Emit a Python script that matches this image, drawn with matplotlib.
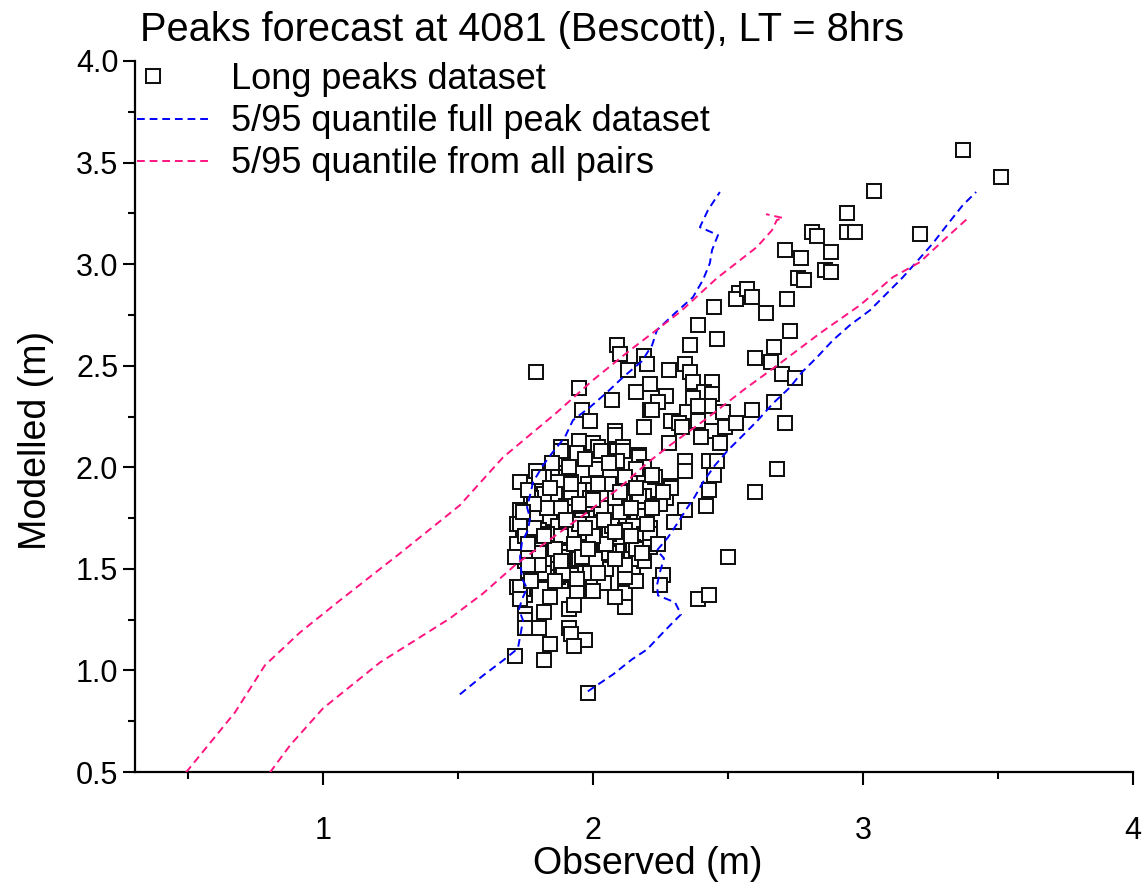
import matplotlib
matplotlib.use("Agg")
import matplotlib.pyplot as plt
from matplotlib.ticker import MultipleLocator, FormatStrFormatter
from matplotlib.legend_handler import HandlerLine2D

plt.rcParams['font.family'] = ['Liberation Sans', 'DejaVu Sans']

title = "Peaks forecast at 4081 (Bescott), LT = 8hrs"
xlabel = "Observed (m)"
ylabel = "Modelled (m)"
labels = ["Long peaks dataset", "5/95 quantile full peak dataset", "5/95 quantile from all pairs"]

# scatter points: observed, modelled
points = [
    (3.37, 3.56), (3.51, 3.43), (3.04, 3.36), (2.94, 3.25), (2.81, 3.16), (2.83, 3.14),
    (2.94, 3.16), (2.97, 3.16), (3.21, 3.15), (2.71, 3.07), (2.77, 3.03), (2.88, 3.06),
    (2.86, 2.97), (2.88, 2.96), (2.76, 2.93), (2.78, 2.92), (2.54, 2.86), (2.53, 2.83),
    (2.57, 2.88), (2.59, 2.84), (2.72, 2.83), (2.45, 2.79), (2.64, 2.76), (2.39, 2.70),
    (2.46, 2.63), (2.36, 2.60), (2.73, 2.67), (2.67, 2.59), (2.60, 2.54), (2.66, 2.52),
    (2.70, 2.46), (2.75, 2.44), (2.67, 2.32), (2.59, 2.28), (2.71, 2.22), (2.68, 1.99),
    (2.60, 1.88), (2.50, 1.56), (2.39, 1.35), (2.43, 1.37),
    (1.79, 2.47), (2.09, 2.60), (2.10, 2.56), (2.13, 2.48), (1.95, 2.39), (2.16, 2.37),
    (2.07, 2.33), (1.96, 2.28), (1.99, 2.23), (2.19, 2.20), (2.08, 2.18), (2.08, 2.16),
    (1.95, 2.13), (2.00, 2.12), (2.02, 2.10), (1.88, 2.10), (1.93, 2.06), (2.11, 2.10),
    (2.09, 2.08), (2.19, 2.55), (2.20, 2.51), (2.21, 2.41), (2.21, 2.28),
    (2.28, 2.48), (2.34, 2.51), (2.36, 2.47), (2.37, 2.42), (2.44, 2.42), (2.27, 2.35),
    (2.24, 2.32), (2.22, 2.28), (2.41, 2.37), (2.44, 2.36), (2.37, 2.34), (2.43, 2.30),
    (2.35, 2.27), (2.39, 2.30), (2.48, 2.27), (2.29, 2.23), (2.32, 2.22), (2.33, 2.20),
    (2.39, 2.23), (2.44, 2.18), (2.49, 2.20), (2.53, 2.22), (2.40, 2.15), (2.47, 2.12),
    (2.28, 2.12),
    (2.34, 2.03), (2.34, 1.98), (2.43, 2.03), (2.46, 2.03), (2.45, 1.96), (2.43, 1.89),
    (2.42, 1.81), (2.34, 1.79), (2.30, 1.73), (2.27, 1.85), (2.25, 1.82), (2.29, 1.91),
    (2.29, 1.90), (2.20, 1.96), (2.23, 1.95), (2.19, 1.86), (2.22, 1.81), (2.20, 1.72),
    (2.21, 1.70), (2.20, 1.65), (2.26, 1.47), (2.17, 2.06), (2.25, 1.42),
    (1.71, 1.07), (1.82, 1.05), (1.84, 1.13), (1.98, 0.89), (1.91, 1.30), (1.93, 1.32),
    (1.91, 1.21), (1.92, 1.18), (1.97, 1.15), (1.93, 1.12), (1.80, 1.21), (1.82, 1.29),
    (1.84, 1.36), (1.75, 1.28), (1.75, 1.25), (1.75, 1.21), (1.75, 1.37), (1.74, 1.40),
    (1.72, 1.41), (1.77, 1.46), (1.82, 1.47), (1.88, 1.44), (1.87, 1.46), (1.96, 1.42),
    (2.00, 1.43), (2.04, 1.43), (1.94, 1.39), (2.00, 1.39), (2.08, 1.36), (2.12, 1.38),
    (2.12, 1.31), (2.16, 1.44),
    (1.88, 2.08), (1.94, 2.07), (2.03, 2.08), (2.11, 2.08), (2.17, 2.05), (2.09, 2.03),
    (2.01, 1.99), (1.87, 1.97), (1.90, 1.95), (1.79, 1.98), (2.19, 2.00), (1.87, 1.93),
    (1.92, 1.93), (1.98, 1.92), (2.06, 1.92), (2.00, 1.89), (1.95, 1.89), (2.19, 1.96),
    (2.11, 1.87), (2.17, 1.86), (1.86, 1.87), (1.82, 1.87), (1.77, 1.85), (1.92, 1.85),
    (1.99, 1.85), (1.90, 1.81), (1.79, 1.77), (1.84, 1.75), (1.92, 1.78), (2.00, 1.75),
    (2.06, 1.74), (2.11, 1.72), (2.19, 1.76), (1.96, 1.74), (1.74, 1.74), (1.87, 1.71),
    (2.03, 1.70), (2.15, 1.71), (1.77, 1.68), (1.74, 1.66), (1.83, 1.67), (1.88, 1.65),
    (1.93, 1.68), (1.98, 1.67), (2.06, 1.67), (2.11, 1.68), (2.19, 1.67), (1.80, 1.63),
    (1.99, 1.61), (2.04, 1.60), (2.09, 1.59), (2.15, 1.61), (1.75, 1.54), (1.80, 1.53),
    (1.84, 1.57), (1.89, 1.56), (1.94, 1.56), (1.95, 1.52), (1.88, 1.50), (1.82, 1.52),
    (1.76, 1.49), (1.99, 1.54), (2.06, 1.56), (2.11, 1.55), (2.05, 1.50), (1.99, 1.48),
    (2.15, 1.51), (2.19, 1.54), (1.92, 1.47), (2.12, 1.46),
    (1.73, 1.93), (1.76, 1.89), (1.73, 1.79), (1.72, 1.72), (1.72, 1.62), (1.71, 1.56),
    (1.73, 1.41), (1.73, 1.35),
    (1.73, 1.72), (1.80, 1.69), (1.83, 1.67), (1.88, 1.66), (1.95, 1.72), (2.00, 1.72),
    (2.07, 1.71), (2.12, 1.69), (2.21, 1.67), (1.75, 1.66), (1.76, 1.56), (1.82, 1.53),
    (1.82, 1.48), (1.89, 1.48), (1.95, 1.55), (2.01, 1.55), (2.06, 1.58), (2.14, 1.55),
    (2.21, 1.61), (2.16, 1.60), (2.08, 1.36), (1.77, 1.44), (2.16, 1.99),
    (1.80, 1.95), (1.84, 1.90), (1.88, 1.80), (1.95, 1.82), (2.03, 1.80), (2.08, 1.85),
    (2.12, 1.95), (2.16, 1.90), (2.10, 1.78), (2.05, 1.62), (2.00, 1.66), (1.93, 1.62),
    (1.86, 1.60), (1.80, 1.58), (1.78, 1.70), (1.83, 1.80), (1.90, 1.74), (1.97, 1.70),
    (2.04, 1.74), (2.14, 1.66), (2.18, 1.58), (2.12, 1.52), (2.02, 1.48), (1.94, 1.45),
    (1.86, 1.44), (1.80, 1.52), (1.76, 1.62), (1.82, 1.66), (1.96, 1.56), (2.08, 1.55),
    (2.02, 1.92), (1.97, 2.04), (1.91, 2.00), (1.85, 2.02), (2.06, 2.02), (2.10, 1.88),
    (1.92, 1.92), (2.00, 1.84), (1.88, 1.54), (1.98, 1.60), (2.08, 1.68), (2.14, 1.80),
    (1.78, 1.82), (1.74, 1.78), (1.76, 1.52), (2.20, 1.72), (2.24, 1.62), (2.22, 1.80),
    (2.26, 1.88), (2.22, 1.96),
]
observed = [p[0] for p in points]
modelled = [p[1] for p in points]

# 5/95 quantile, full peak dataset (blue)
blue_upper_x = [1.507, 1.593, 1.667, 1.722, 1.733, 1.741, 1.726, 1.737, 1.756, 1.737, 1.730, 1.737,
                1.759, 1.767, 1.756, 1.767, 1.778, 1.815, 1.848, 1.896, 1.926, 1.989, 2.052, 2.111,
                2.181, 2.219, 2.237, 2.304, 2.370, 2.407, 2.433, 2.441, 2.463, 2.396, 2.426, 2.470]
blue_upper_y = [0.882, 0.975, 1.049, 1.108, 1.187, 1.246, 1.300, 1.350, 1.404, 1.453, 1.557, 1.631,
                1.690, 1.749, 1.803, 1.862, 1.926, 2.010, 2.069, 2.148, 2.232, 2.296, 2.369, 2.443,
                2.522, 2.601, 2.675, 2.759, 2.837, 2.921, 3.005, 3.069, 3.143, 3.182, 3.266, 3.355]
blue_lower_x = [1.981, 2.074, 2.144, 2.200, 2.267, 2.326, 2.304, 2.241, 2.237, 2.248, 2.263, 2.237,
                2.278, 2.315, 2.348, 2.378, 2.407, 2.452, 2.500, 2.556, 2.611, 2.667, 2.730, 2.774,
                2.830, 2.889, 2.952, 3.026, 3.089, 3.148, 3.211, 3.259, 3.311, 3.370, 3.419]
blue_lower_y = [0.897, 0.980, 1.054, 1.103, 1.197, 1.276, 1.335, 1.369, 1.419, 1.483, 1.552, 1.591,
                1.655, 1.729, 1.798, 1.857, 1.926, 2.010, 2.084, 2.158, 2.232, 2.315, 2.394, 2.468,
                2.542, 2.626, 2.700, 2.773, 2.857, 2.936, 3.030, 3.103, 3.192, 3.291, 3.355]

# 5/95 quantile from all pairs (pink)
pink_upper_x = [0.493, 0.674, 0.785, 0.915, 1.063, 1.285, 1.507, 1.667, 1.867, 2.000, 2.137, 2.322,
                2.459, 2.607, 2.663, 2.681, 2.704, 2.641]
pink_upper_y = [0.498, 0.793, 1.025, 1.187, 1.345, 1.576, 1.813, 2.049, 2.271, 2.429, 2.576, 2.764,
                2.931, 3.084, 3.167, 3.217, 3.227, 3.246]
pink_lower_x = [0.804, 0.878, 1.000, 1.211, 1.470, 1.593, 1.719, 1.852, 1.978, 2.100, 2.200, 2.285,
                2.422, 2.556, 2.693, 2.841, 2.989, 3.111, 3.211, 3.311, 3.385]
pink_lower_y = [0.498, 0.631, 0.813, 1.039, 1.256, 1.379, 1.527, 1.655, 1.778, 1.901, 2.020, 2.108,
                2.241, 2.379, 2.512, 2.660, 2.798, 2.936, 3.010, 3.133, 3.222]

BLUE = '#0000FF'
PINK = '#FF1480'
W, H = 1148, 884


class LeftMarkerHandler(HandlerLine2D):
    """Places the single legend marker near the left of the handle area."""
    def get_xdata(self, legend, xdescent, ydescent, width, height, fontsize):
        xd = [-xdescent, -xdescent + 0.44 * width]
        return xd, [-xdescent + 0.22 * width]


fig = plt.figure(figsize=(W / 100, H / 100), dpi=100)
ax = fig.add_axes([135 / W, 1 - 772 / H, 998 / W, 711 / H])

sc, = ax.plot(observed, modelled, linestyle='none', marker='s', markersize=10.3,
              markerfacecolor='white', markeredgecolor='#111111', markeredgewidth=1.45,
              label=labels[0], zorder=2)

ls = dict(lw=1.4, dashes=[4, 2.5], zorder=3)
ax.plot(blue_upper_x, blue_upper_y, color=BLUE, label=labels[1], **ls)
ax.plot(blue_lower_x, blue_lower_y, color=BLUE, **ls)
ax.plot(pink_upper_x, pink_upper_y, color=PINK, label=labels[2], **ls)
ax.plot(pink_lower_x, pink_lower_y, color=PINK, **ls)

ax.set_xlim(0.304, 4.0)
ax.set_ylim(0.5, 4.0)
ax.xaxis.set_major_locator(MultipleLocator(1))
ax.xaxis.set_minor_locator(MultipleLocator(0.5))
ax.yaxis.set_major_locator(MultipleLocator(0.5))
ax.yaxis.set_minor_locator(MultipleLocator(0.25))
ax.yaxis.set_major_formatter(FormatStrFormatter('%.1f'))
ax.xaxis.set_major_formatter(FormatStrFormatter('%d'))

for s in ['top', 'right']:
    ax.spines[s].set_visible(False)
for s in ['left', 'bottom']:
    ax.spines[s].set_linewidth(1.6)
ax.tick_params(which='major', direction='out', length=9, width=1.5, labelsize=22)
ax.tick_params(which='minor', direction='out', length=5, width=1.5)
ax.tick_params(axis='x', which='major', pad=23)
ax.tick_params(axis='y', which='major', pad=3)

fig.text(648 / W, 1 - 864 / H, xlabel, fontsize=27, ha='center', va='center')
fig.text(36 / W, 1 - 440 / H, ylabel, fontsize=27, ha='center', va='center', rotation=90)

fig.text(140 / W, 1 - 30 / H, title, fontsize=28.6, ha='left', va='center')

leg = ax.legend(loc='upper left', bbox_to_anchor=(137 / W, 1 - 62 / H),
                bbox_transform=fig.transFigure, frameon=False, fontsize=26,
                handlelength=2.0, handletextpad=0.6, labelspacing=0.2,
                borderaxespad=0, borderpad=0, numpoints=1,
                handler_map={sc: LeftMarkerHandler(numpoints=1)})

fig.savefig('out.png', dpi=100)
